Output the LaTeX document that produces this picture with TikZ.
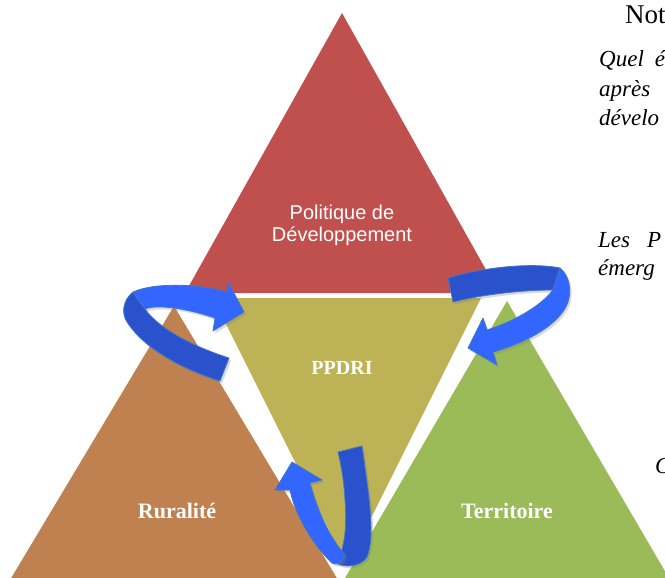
\documentclass[tikz,border=0pt]{standalone}
\usepackage{fontspec}
\setmainfont{Liberation Serif}
\newfontfamily\sansf{Liberation Sans}
\usetikzlibrary{shadows}
\definecolor{tred}{HTML}{C0504D}
\definecolor{tolive}{HTML}{BEB256}
\definecolor{tbrown}{HTML}{BF8150}
\definecolor{tgreen}{HTML}{9BBB59}
\definecolor{afront}{HTML}{3366FF}
\definecolor{aback}{HTML}{2A52CC}
\definecolor{aedge}{HTML}{4377C2}
\begin{document}
\begin{tikzpicture}[x=1pt,y=-1pt,
  ribbonfront/.style={fill=afront, draw=aedge, line width=0.8pt, line join=round},
  ribbonback/.style={fill=aback, draw=aedge, line width=0.8pt, line join=round},
  shade/.style={drop shadow={opacity=0.3, shadow xshift=2pt, shadow yshift=-2.5pt}},
  lab/.style={text=white, inner sep=0pt, anchor=base},
  prose/.style={anchor=base west, inner sep=0pt, font=\itshape\fontsize{23}{27}\selectfont}]
\useasboundingbox (0,0) rectangle (665,578);
\clip (0,0) rectangle (665,578);
% triangles
\fill[tred] (342,13) -- (499,293) -- (185,293) -- cycle;
\fill[tbrown] (174,306) -- (344,590) -- (4,590) -- cycle;
\fill[tgreen] (507,301) -- (676,590) -- (338,590) -- cycle;
\fill[tolive] (213,298) -- (481,298) -- (347,566) -- cycle;
% arrow 1 (left)
\filldraw[ribbonback, shade] (133,292) .. controls (123,300) and (121,313) .. (127,322)
  .. controls (145,350) and (185,370) .. (220,381) -- (229,358)
  .. controls (195,347) and (160,330) .. (145,309) -- cycle;
\filldraw[ribbonfront, shade] (133,292) .. controls (155,282) and (200,284) .. (227,292)
  -- (228,282) -- (244,312) -- (213,331) -- (215,318)
  .. controls (195,311) and (160,303) .. (145,309) -- cycle;
% arrow 2 (right)
\filldraw[ribbonback, shade] (448,278) .. controls (480,268) and (530,262) .. (560,268)
  -- (553,290) .. controls (520,290) and (480,295) .. (453,302) -- cycle;
\filldraw[ribbonfront, shade] (560,268) .. controls (569,275) and (572,290) .. (568,302)
  .. controls (560,325) and (525,343) .. (493,352) -- (497,365) -- (468,348) -- (483,318)
  -- (487,330) .. controls (512,322) and (540,307) .. (553,290) -- cycle;
% arrow 3 (bottom)
\filldraw[ribbonback, shade] (338,452) -- (362,446) .. controls (368,490) and (376,535) .. (367,557)
  .. controls (361,567) and (344,568) .. (336,563)
  .. controls (345,550) and (347,525) .. (345,500)
  .. controls (344,480) and (341,465) .. (338,452) -- cycle;
\filldraw[ribbonfront, shade] (290,490) -- (275,490) -- (292,462) -- (322,480) -- (310,483)
  .. controls (317,510) and (330,538) .. (345,555)
  .. controls (344,562) and (337,566) .. (332,563)
  .. controls (313,545) and (295,515) .. (290,490) -- cycle;
% labels
\node[lab, align=center, font=\sansf\fontsize{20}{22}\selectfont] (pol) at (342,241) {Politique de\\Développement};
\node[lab, font=\bfseries\fontsize{20}{22}\selectfont] (ppdri) at (342,374) {PPDRI};
\node[lab, font=\bfseries\fontsize{22}{24}\selectfont] (rur) at (177,518) {Ruralité};
\node[lab, font=\bfseries\fontsize{22}{24}\selectfont] (ter) at (507,518) {Territoire};
% side text
\node[anchor=base west, inner sep=0pt, font=\fontsize{27}{30}\selectfont] (not) at (625,24) {Not};
\node[prose] (l1) at (599,67) {Quel\hspace{11pt}é};
\node[prose] (l2) at (599,96) {après};
\node[prose] (l3) at (599,125) {dévelo};
\node[prose] (l4) at (598,247) {Les\hspace{17pt}P};
\node[prose] (l5) at (598,275) {émerg};
\node[prose] (l6) at (655,473) {C};
\end{tikzpicture}
\end{document}
